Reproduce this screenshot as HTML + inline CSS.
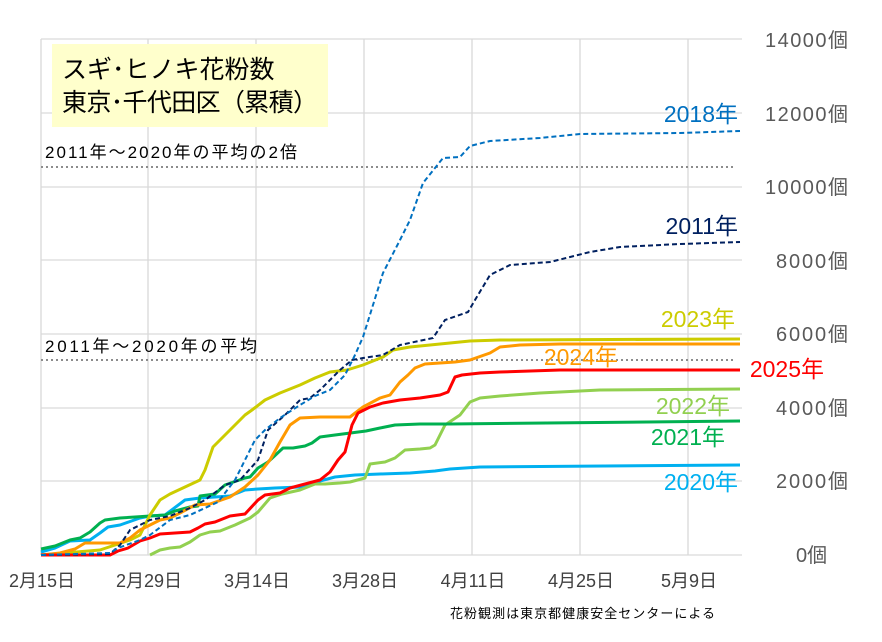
<!DOCTYPE html>
<html><head><meta charset="utf-8"><style>
body{margin:0;background:#fff;}
svg text{font-family:"Liberation Sans","Noto Sans CJK JP",sans-serif;}
</style></head><body>
<svg width="882" height="637" viewBox="0 0 882 637" xmlns="http://www.w3.org/2000/svg">
<g stroke="#d9d9d9" stroke-width="1.3" fill="none">
<line x1="41" y1="39" x2="742" y2="39"/><line x1="41" y1="113" x2="742" y2="113"/><line x1="41" y1="187" x2="742" y2="187"/><line x1="41" y1="260" x2="742" y2="260"/><line x1="41" y1="334" x2="742" y2="334"/><line x1="41" y1="408" x2="742" y2="408"/><line x1="41" y1="481" x2="742" y2="481"/><line x1="41" y1="555" x2="742" y2="555"/>
<line x1="41" y1="39" x2="41" y2="555"/><line x1="148" y1="39" x2="148" y2="555"/><line x1="256" y1="39" x2="256" y2="555"/><line x1="364" y1="39" x2="364" y2="555"/><line x1="472" y1="39" x2="472" y2="555"/><line x1="580" y1="39" x2="580" y2="555"/><line x1="688" y1="39" x2="688" y2="555"/>
</g>
<g stroke="#8c8c8c" stroke-width="2" stroke-dasharray="2,3">
<line x1="41" y1="167" x2="736" y2="167"/><line x1="41" y1="360" x2="736" y2="360"/>
</g>
<rect x="52" y="44" width="276" height="83" fill="#ffffcc"/>
<text x="62" y="78" font-size="25" fill="#000">スギ･ヒノキ花粉数</text>
<text x="62" y="111" font-size="25" fill="#000" textLength="256">東京･千代田区（累積）</text>
<text x="45" y="158" font-size="17" fill="#000" textLength="252">2011年～2020年の平均の2倍</text>
<text x="45" y="352" font-size="17" fill="#000" textLength="212">2011年～2020年の平均</text>
<g fill="none" stroke-width="3" stroke-linejoin="round">
<polyline stroke="#00b0f0" points="41,552 55,548 70,541 90,540 100,533 108,527 120,525 140,518 150,516 165,515 185,500 200,498 215,497 230,496 245,490 258,489 275,488 300,487 320,481 335,477 355,475 380,474 410,473 435,471 450,469 480,467 740,465"/>
<polyline stroke="#92d050" points="150,555 160,550 170,548 180,547 190,542 200,535 210,532 220,531 235,525 250,518 258,512 270,498 282,494 300,490 315,484 325,484 340,483 350,482 365,478 370,464 385,462 395,458 405,450 420,449 430,448 435,445 445,425 460,415 470,402 480,398 500,396 540,393 600,390 740,389"/>
<polyline stroke="#00b050" points="41,549 55,546 70,540 80,538 90,532 100,523 105,520 120,518 135,517 150,516 165,515 175,511 190,507 198,506 200,496 215,494 225,485 245,478 250,477 258,468 268,462 283,448 293,448 305,446 312,443 320,437 335,435 366,431 380,428 395,425 420,424 450,424 740,421"/>
<polyline stroke="#cccc00" points="41,555 100,550 130,540 140,535 150,515 160,500 170,494 185,487 200,480 205,470 213,447 225,435 245,415 252,410 265,400 280,393 300,385 315,378 330,372 347,370 363,365 383,357 393,350 410,347 440,344 470,341 500,340 740,339"/>
<polyline stroke="#ff9900" points="41,555 60,553 75,549 85,543 120,543 130,538 140,530 150,525 160,520 170,518 180,513 195,505 210,504 230,497 245,487 258,475 270,460 280,442 290,425 300,418 320,417 350,417 363,407 380,398 390,395 400,382 408,375 415,368 425,364 455,362 470,360 490,353 500,347 520,345 560,344 740,344"/>
<polyline stroke="#ff0000" points="41,555 110,555 118,551 128,548 140,541 150,538 160,534 175,533 190,532 198,528 205,524 215,522 225,518 230,516 245,514 258,500 265,495 280,493 290,488 305,484 320,480 330,472 338,460 345,452 352,425 358,413 370,407 383,403 400,400 420,398 440,395 448,392 455,377 462,375 480,373 500,372 560,370 740,370"/>
</g>
<g fill="none" stroke-width="2" stroke-dasharray="5,3">
<polyline stroke="#002060" points="41,555 110,554 120,545 130,530 150,520 170,516 190,508 205,500 225,485 240,480 258,460 268,430 285,415 300,400 310,398 320,390 330,380 340,370 352,360 363,358 383,355 400,345 433,338 445,320 468,312 475,300 490,275 510,265 550,262 590,252 620,247 680,244 740,242"/>
<polyline stroke="#0070c0" points="41,555 110,553 118,548 140,540 150,535 170,520 190,515 205,508 218,502 235,480 255,440 265,430 280,418 300,405 315,396 330,390 345,375 355,355 363,337 383,273 400,240 410,220 423,183 443,158 460,157 470,146 490,141 540,138 580,134 680,133 740,131"/>
</g>
<g font-size="20" fill="#595959">
<text x="765" y="47" textLength="83">14000個</text><text x="765" y="121" textLength="83">12000個</text><text x="765" y="194" textLength="83">10000個</text><text x="776" y="268" textLength="72">8000個</text><text x="776" y="341" textLength="72">6000個</text><text x="776" y="415" textLength="72">4000個</text><text x="776" y="488" textLength="72">2000個</text><text x="796" y="562">0個</text>
</g>
<g font-size="18" fill="#404040" text-anchor="middle">
<text x="42" y="587">2月15日</text><text x="149" y="587">2月29日</text><text x="257" y="587">3月14日</text><text x="365" y="587">3月28日</text><text x="473" y="587">4月11日</text><text x="581" y="587">4月25日</text><text x="689" y="587">5月9日</text>
</g>
<g font-size="23" text-anchor="end">
<text x="738" y="122" fill="#0070c0">2018年</text>
<text x="738" y="234" fill="#002060">2011年</text>
<text x="735" y="327" fill="#cccc00">2023年</text>
<text x="618" y="365" fill="#ff9900">2024年</text>
<text x="824" y="377" fill="#ff0000">2025年</text>
<text x="730" y="414" fill="#92d050">2022年</text>
<text x="725" y="445" fill="#00b050">2021年</text>
<text x="738" y="490" fill="#00b0f0">2020年</text>
</g>
<text x="450" y="618" font-size="13" fill="#000" textLength="265">花粉観測は東京都健康安全センターによる</text>
</svg>
</body></html>
